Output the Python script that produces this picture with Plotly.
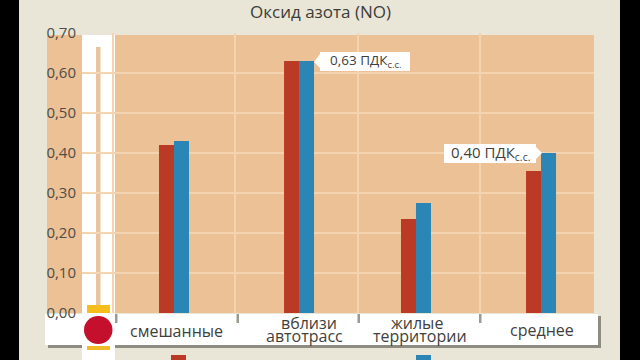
import plotly.graph_objects as go

categories = ["смешанные", "вблизи автотрасс", "жилые территории", "среднее"]
series_red = [0.42, 0.63, 0.235, 0.355]
series_blue = [0.43, 0.63, 0.275, 0.40]
y_ticks = [0, 0.1, 0.2, 0.3, 0.4, 0.5, 0.6, 0.7]
y_labels = ["0,00", "0,10", "0,20", "0,30", "0,40", "0,50", "0,60", "0,70"]
callouts = [("0,63 ПДК<sub>с.с.</sub>", 365, 61, 13.5), ("0,40 ПДК<sub>с.с.</sub>", 490, 153, 15)]
title_text = "Оксид азота (NO)"
legend_names = ["ряд 1", "ряд 2"]
cat_label_lines = [("смешанные", 176, 331), ("вблизи", 309, 323), ("автотрасс", 304, 336),
                   ("жилые", 417, 323), ("территории", 420, 336), ("среднее", 542, 330)]
bar_shift = [0, 0.022, -0.022, 0]

W, H = 640, 360
L, R, T, B = 82, 594, 33, 313
FONT = "Open Sans"
TXT = "#3f3f3c"
BAR_W = 0.1226


def px(x):
    return (x - L) / (R - L)


def py(y):
    return (B - y) / (B - T)


def rect(x0, y0, x1, y1, color, layer="below"):
    return dict(type="rect", xref="paper", yref="paper", x0=px(x0), x1=px(x1), y0=py(y1), y1=py(y0),
                fillcolor=color, line_width=0, layer=layer)


def tri(x0, y0, x1, y1, x2, y2):
    return dict(type="path", xref="paper", yref="paper",
                path=f"M {px(x0)} {py(y0)} L {px(x1)} {py(y1)} L {px(x2)} {py(y2)} Z",
                fillcolor="#ffffff", line_width=0, layer="above")


shapes = [
    rect(19, 0, 620, 360, "#e9e6d7"),
    rect(47, 35, 594, 313, "#ecc195"),
    rect(48, 345, 601, 348, "#8e8c80"),
    rect(597, 316, 601, 348, "#8e8c80"),
    rect(45, 314, 598, 345, "#ffffff"),
    rect(82, 35, 115, 360, "#ffffff", "between"),
    rect(96, 47, 100.5, 306, "#e8c39d", "between"),
    rect(82, 314, 115, 360, "#ffffff", "above"),
    rect(87, 305, 110, 313, "#f7bd1a", "above"),
    rect(87, 346, 110, 350, "#f0ba2a", "above"),
    dict(type="circle", xref="paper", yref="paper", x0=px(84), x1=px(112.5), y0=py(344), y1=py(316),
         fillcolor="#c40f2d", line_width=0, layer="above"),
    rect(171, 355, 186, 360, "#bb3a26", "above"),
    rect(416, 355, 431, 360, "#2b85b5", "above"),
    rect(320, 52, 410, 71, "#ffffff", "above"),
    rect(444, 144, 536, 163, "#ffffff", "above"),
    tri(320, 54, 314, 62, 320, 68),
    tri(536, 147, 542, 153, 536, 159),
]
for xt in (116, 237.5, 358.5, 480):
    shapes.append(rect(xt - 1, 314, xt + 1.5, 323, "#9a9a90", "above"))

fig = go.Figure()
fig.add_bar(x=categories, y=series_red, name=legend_names[0], marker_color="#bb3a26", marker_line_width=0,
            offset=[s - BAR_W for s in bar_shift], width=BAR_W)
fig.add_bar(x=categories, y=series_blue, name=legend_names[1], marker_color="#2b85b5", marker_line_width=0,
            offset=bar_shift, width=BAR_W)


def label(text, cx, cy, size, color):
    return dict(text=text, xref="paper", yref="paper", x=px(cx), y=py(cy), showarrow=False,
                xanchor="center", yanchor="middle", font=dict(family=FONT, size=size, color=color))


annotations = [label(title_text, 320, 11, 17, "#3c3c38")]
annotations += [label(t, cx, cy, size, TXT) for t, cx, cy, size in callouts]
annotations += [label(t, cx, cy, 16, TXT) for t, cx, cy in cat_label_lines]

fig.update_layout(
    width=W, height=H, autosize=False, showlegend=False, barmode="overlay",
    paper_bgcolor="#000000", plot_bgcolor="#ecc195",
    margin=dict(l=L, r=W - R, t=T, b=H - B),
    font=dict(family=FONT, color=TXT),
    shapes=shapes, annotations=annotations,
    xaxis=dict(type="category", range=[-0.752, 3.433], tickson="boundaries", ticks="",
               showticklabels=False,
               showgrid=True, gridcolor="#f3d3b0", gridwidth=1.5, showline=False, zeroline=False),
    yaxis=dict(range=[0, 0.7], tickvals=y_ticks, ticktext=y_labels, ticks="",
               showgrid=True, gridcolor="#f3d3b0", gridwidth=1.5, showline=False, zeroline=False,
               tickfont=dict(family=FONT, size=15, color="#4f4d48"), ticklabelstandoff=5),
)
fig.write_html("out.html", config={"displayModeBar": False},
               post_script="document.body.style.margin='0';document.body.style.overflow='hidden';")
